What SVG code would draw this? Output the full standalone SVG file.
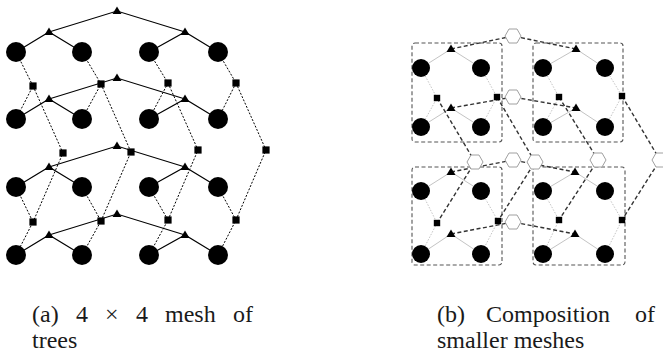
<svg xmlns="http://www.w3.org/2000/svg" width="663" height="358" viewBox="0 0 663 358">
<defs>
<style>
.tree{stroke:#000;stroke-width:1.1;fill:none}
.dot{stroke:#000;stroke-width:1;stroke-dasharray:2 1.6;fill:none}
.thin{stroke:#b4b4b4;stroke-width:0.8;fill:none}
.thindot{stroke:#b4b4b4;stroke-width:0.8;stroke-dasharray:1.5 1.5;fill:none}
.thick{stroke:#333;stroke-width:1.4;stroke-dasharray:4 2.5;fill:none}
.box{stroke:#555;stroke-width:1.1;stroke-dasharray:4 2.5;fill:none}
.c{fill:#000}
.hex{fill:#fff;stroke:#a0a0a0;stroke-width:1}
.cap{font-family:"Liberation Serif","DejaVu Serif",serif;font-size:24px;fill:#1a1a1a}
</style>
<symbol id="tri" overflow="visible"><polygon points="0,-4.5 4.5,3 -4.5,3" fill="#000"/></symbol>
<symbol id="sq" overflow="visible"><rect x="-3.6" y="-3.6" width="7.2" height="7.2" fill="#000"/></symbol>
<symbol id="sqs" overflow="visible"><rect x="-3.2" y="-3.2" width="6.4" height="6.4" fill="#000"/></symbol>
<symbol id="hx" overflow="visible"><polygon class="hex" points="-8,0 -4,-7 4,-7 8,0 4,7 -4,7"/></symbol>
</defs>

<!-- ===== (a) 4x4 mesh of trees ===== -->
<g id="connectors-a">
<polyline class="tree" points="16,52 49,32 82,52"/><polyline class="tree" points="149,52 185,32 218,52"/><polyline class="tree" points="49,32 117,11 185,32"/>
<polyline class="tree" points="16,119 49,99 82,119"/><polyline class="tree" points="149,119 185,99 218,119"/><polyline class="tree" points="49,99 117,78 185,99"/>
<polyline class="tree" points="16,187 49,167 82,187"/><polyline class="tree" points="149,187 185,167 218,187"/><polyline class="tree" points="49,167 117,146 185,167"/>
<polyline class="tree" points="16,255 49,235 82,255"/><polyline class="tree" points="149,255 185,235 218,255"/><polyline class="tree" points="49,235 117,214 185,235"/>
<polyline class="dot" points="16,52 33,86 16,119"/><polyline class="dot" points="33,86 63,153 33,222"/><polyline class="dot" points="16,187 33,222 16,255"/>
<polyline class="dot" points="82,52 101,84 82,119"/><polyline class="dot" points="101,84 131,152 101,221"/><polyline class="dot" points="82,187 101,221 82,255"/>
<polyline class="dot" points="149,52 168,83 149,119"/><polyline class="dot" points="168,83 198,150 168,220"/><polyline class="dot" points="149,187 168,220 149,255"/>
<polyline class="dot" points="218,52 236,83 218,119"/><polyline class="dot" points="236,83 266,150 236,220"/><polyline class="dot" points="218,187 236,220 218,255"/>
</g>
<g id="leaves-a">
<circle class="c" cx="16" cy="52" r="10"/><circle class="c" cx="82" cy="52" r="10"/><circle class="c" cx="149" cy="52" r="10"/><circle class="c" cx="218" cy="52" r="10"/>
<circle class="c" cx="16" cy="119" r="10"/><circle class="c" cx="82" cy="119" r="10"/><circle class="c" cx="149" cy="119" r="10"/><circle class="c" cx="218" cy="119" r="10"/>
<circle class="c" cx="16" cy="187" r="10"/><circle class="c" cx="82" cy="187" r="10"/><circle class="c" cx="149" cy="187" r="10"/><circle class="c" cx="218" cy="187" r="10"/>
<circle class="c" cx="16" cy="255" r="10"/><circle class="c" cx="82" cy="255" r="10"/><circle class="c" cx="149" cy="255" r="10"/><circle class="c" cx="218" cy="255" r="10"/>
</g>
<g id="rowtrees-a">
<use href="#tri" x="117" y="11"/><use href="#tri" x="49" y="32"/><use href="#tri" x="185" y="32"/>
<use href="#tri" x="117" y="78"/><use href="#tri" x="49" y="99"/><use href="#tri" x="185" y="99"/>
<use href="#tri" x="117" y="146"/><use href="#tri" x="49" y="167"/><use href="#tri" x="185" y="167"/>
<use href="#tri" x="117" y="214"/><use href="#tri" x="49" y="235"/><use href="#tri" x="185" y="235"/>
</g>
<g id="coltrees-a">
<use href="#sq" x="33" y="86"/><use href="#sq" x="63" y="153"/><use href="#sq" x="33" y="222"/>
<use href="#sq" x="101" y="84"/><use href="#sq" x="131" y="152"/><use href="#sq" x="101" y="221"/>
<use href="#sq" x="168" y="83"/><use href="#sq" x="198" y="150"/><use href="#sq" x="168" y="220"/>
<use href="#sq" x="236" y="83"/><use href="#sq" x="266" y="150"/><use href="#sq" x="236" y="220"/>
</g>

<!-- ===== (b) composition of smaller meshes ===== -->
<g id="boxes-b">
<rect class="box" x="412" y="43" width="90" height="99" rx="3"/>
<rect class="box" x="533" y="43" width="90" height="99" rx="3"/>
<rect class="box" x="412" y="167" width="90" height="98" rx="3"/>
<rect class="box" x="533" y="167" width="92" height="98" rx="3"/>
</g>
<g id="connectors-b">
<polyline class="thin" points="421,68 451,49 481,68"/><polyline class="thin" points="543,68 576,49 605,68"/>
<polyline class="thin" points="421,127 451,108 481,127"/><polyline class="thin" points="543,127 576,108 605,127"/>
<polyline class="thin" points="421,191 451,172 481,191"/><polyline class="thin" points="543,191 575,172 605,191"/>
<polyline class="thin" points="421,254 451,234 481,254"/><polyline class="thin" points="543,254 575,234 605,254"/>
<polyline class="thindot" points="421,68 437,98 421,127"/><polyline class="thindot" points="481,68 497,97 481,127"/>
<polyline class="thindot" points="543,68 559,97 543,127"/><polyline class="thindot" points="605,68 622,96 605,127"/>
<polyline class="thindot" points="421,191 437,223 421,254"/><polyline class="thindot" points="481,191 498,221 481,254"/>
<polyline class="thindot" points="543,191 559,220 543,254"/><polyline class="thindot" points="605,191 622,220 605,254"/>
<polyline class="thick" points="451,49 513,36 576,49"/>
<polyline class="thick" points="451,108 513,97 576,108"/>
<polyline class="thick" points="451,172 513,160 575,172"/>
<polyline class="thick" points="451,234 513,222 575,234"/>
<polyline class="thick" points="437,98 475,162 437,223"/>
<polyline class="thick" points="497,97 535,162 498,221"/>
<polyline class="thick" points="559,97 598,160 559,220"/>
<polyline class="thick" points="622,96 660,160 622,220"/>
</g>
<g id="leaves-b">
<circle class="c" cx="421" cy="68" r="9"/><circle class="c" cx="481" cy="68" r="9"/><circle class="c" cx="543" cy="68" r="9"/><circle class="c" cx="605" cy="68" r="9"/>
<circle class="c" cx="421" cy="127" r="9"/><circle class="c" cx="481" cy="127" r="9"/><circle class="c" cx="543" cy="127" r="9"/><circle class="c" cx="605" cy="127" r="9"/>
<circle class="c" cx="421" cy="191" r="9"/><circle class="c" cx="481" cy="191" r="9"/><circle class="c" cx="543" cy="191" r="9"/><circle class="c" cx="605" cy="191" r="9"/>
<circle class="c" cx="421" cy="254" r="9"/><circle class="c" cx="481" cy="254" r="9"/><circle class="c" cx="543" cy="254" r="9"/><circle class="c" cx="605" cy="254" r="9"/>
</g>
<g id="inner-b">
<use href="#tri" x="451" y="49"/><use href="#tri" x="576" y="49"/><use href="#tri" x="451" y="108"/><use href="#tri" x="576" y="108"/>
<use href="#tri" x="451" y="172"/><use href="#tri" x="575" y="172"/><use href="#tri" x="451" y="234"/><use href="#tri" x="575" y="234"/>
<use href="#sqs" x="437" y="98"/><use href="#sqs" x="497" y="97"/><use href="#sqs" x="559" y="97"/><use href="#sqs" x="622" y="96"/>
<use href="#sqs" x="437" y="223"/><use href="#sqs" x="498" y="221"/><use href="#sqs" x="559" y="220"/><use href="#sqs" x="622" y="220"/>
</g>
<g id="hexagons-b">
<use href="#hx" x="513" y="36"/><use href="#hx" x="513" y="97"/><use href="#hx" x="513" y="160"/><use href="#hx" x="513" y="222"/>
<use href="#hx" x="475" y="162"/><use href="#hx" x="535" y="162"/><use href="#hx" x="598" y="160"/><use href="#hx" x="660" y="160"/>
</g>

<g id="captions">
<text class="cap" y="322"><tspan x="32">(a)</tspan><tspan x="76">4</tspan><tspan x="105">×</tspan><tspan x="136">4</tspan><tspan x="165">mesh</tspan><tspan x="233">of</tspan></text>
<text class="cap" x="32" y="348">trees</text>
<text class="cap" y="322"><tspan x="437">(b)</tspan><tspan x="486">Composition</tspan><tspan x="635">of</tspan></text>
<text class="cap" x="437" y="348">smaller meshes</text>
</g>
</svg>
